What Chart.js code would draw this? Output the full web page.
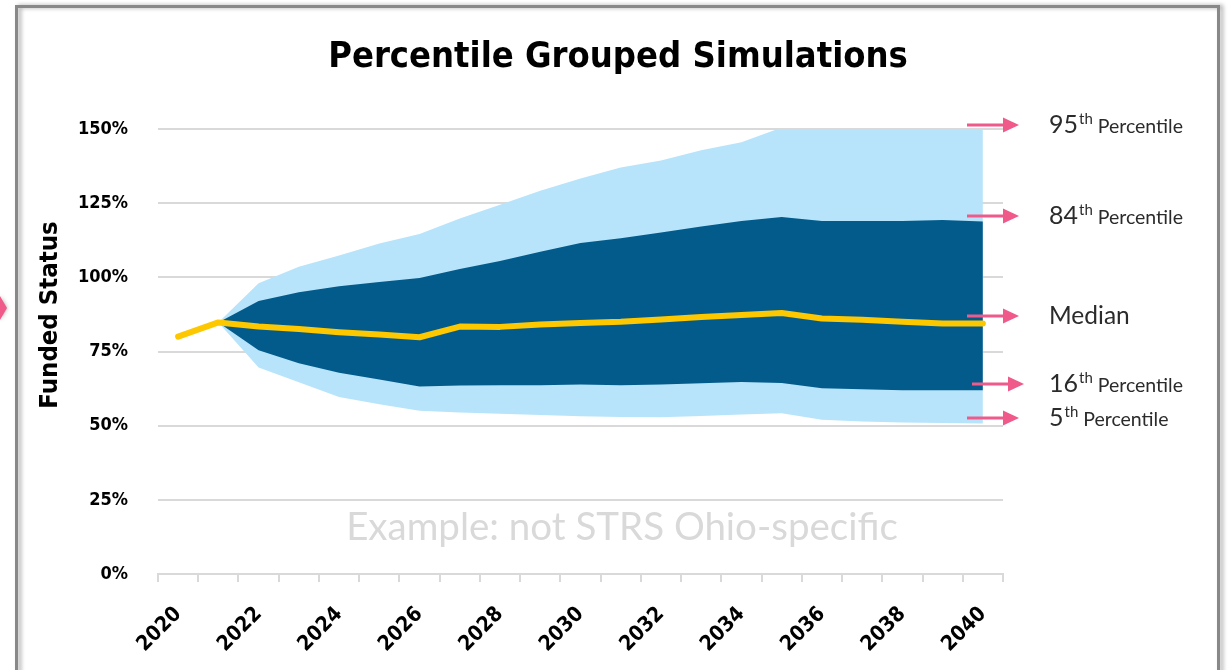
<!DOCTYPE html>
<html>
<head>
<meta charset="utf-8">
<script src="https://cdn.jsdelivr.net/npm/chart.js@4.4.1/dist/chart.umd.min.js"></script>
<style>
  html, body { margin: 0; padding: 0; background: #fff; overflow: hidden; }
  #wrap { position: relative; width: 1228px; height: 670px; }
</style>
</head>
<body>
<div id="wrap"><canvas id="fundedChart"></canvas></div>
<script>
// 데이터
const years = ['2020', '2021', '2022', '2023', '2024', '2025', '2026', '2027', '2028', '2029', '2030',
    '2031', '2032', '2033', '2034', '2035', '2036', '2037', '2038', '2039', '2040'];
const median = [80, 84.8, 83.4, 82.6, 81.5, 80.7, 79.8, 83.4, 83.3, 84.1, 84.6, 85, 85.8, 86.6, 87.3, 88, 86.1, 85.7, 85, 84.4, 84.4];
const p84 = [null, 84.8, 92, 95, 97, 98.4, 99.8, 102.8, 105.5, 108.6, 111.6, 113.2, 115.1, 117.1, 119, 120.3, 119, 119, 119, 119.3, 118.8];
const p16 = [null, 84.8, 75.4, 71, 67.8, 65.6, 63.2, 63.5, 63.6, 63.6, 63.9, 63.6, 63.9, 64.3, 64.7, 64.4, 62.6, 62.3, 61.9, 61.9, 61.9];
const p95 = [null, 84.8, 98, 103.6, 107.4, 111.4, 114.6, 119.8, 124.5, 129.2, 133.3, 137, 139.4, 142.8, 145.5, 150.5, 152, 153, 154, 155, 156];
const p5 = [null, 84.8, 69.6, 64.6, 59.7, 57.2, 55, 54.4, 54, 53.6, 53.2, 52.9, 52.8, 53.3, 53.8, 54.2, 52, 51.4, 51.1, 50.9, 50.7];
const yTicks = [0, 25, 50, 75, 100, 125, 150];

// 오른쪽 화살표 라벨 (y 값 위치)
const markerNums = ['95', '84', 'Median', '16', '5'];
const markerLevels = [151.3, 120.7, 86.8, 64, 52.5];

const colors = { light: '#b7e4fa', dark: '#035b8c', median: '#fdc800', grid: '#d9d9d9', arrow: '#ef5a8b', text: '#2b2b2b' };
const boldFont = "'DejaVu Sans Condensed', 'DejaVu Sans', sans-serif";
const thinFont = "Lato, 'Open Sans', sans-serif";

/**
 * 차트 영역 밖의 장식(제목, 축 제목, 화살표, 테두리)을 그립니다.
 */
const decorPlugin = {
    id: 'decor',
    beforeDraw(chart) {
        const ctx = chart.ctx;
        ctx.save();
        // 바깥 테두리
        ctx.shadowColor = 'rgba(0,0,0,0.35)';
        ctx.shadowBlur = 4;
        ctx.shadowOffsetX = 3;
        ctx.strokeStyle = '#888';
        ctx.lineWidth = 3;
        ctx.strokeRect(16.5, 6.5, 1202, 720);
        ctx.restore();

        // 왼쪽 가장자리 분홍 화살촉
        ctx.save();
        ctx.shadowColor = 'rgba(0,0,0,0.35)';
        ctx.shadowBlur = 4;
        ctx.fillStyle = colors.arrow;
        ctx.beginPath();
        ctx.moveTo(0, 296);
        ctx.lineTo(7, 308);
        ctx.lineTo(0, 320);
        ctx.closePath();
        ctx.fill();
        ctx.restore();
    },
    beforeDatasetsDraw(chart) {
        const { ctx, chartArea } = chart;
        ctx.save();
        ctx.beginPath();
        ctx.rect(chartArea.left, chartArea.top, chartArea.right - chartArea.left, chartArea.bottom - chartArea.top);
        ctx.clip();
    },
    afterDatasetsDraw(chart) {
        chart.ctx.restore();
    },
    afterDraw(chart) {
        const ctx = chart.ctx;
        const yScale = chart.scales.y;

        ctx.save();
        // 제목
        ctx.fillStyle = '#000';
        ctx.font = `bold 36px ${boldFont}`;
        ctx.textAlign = 'center';
        ctx.textBaseline = 'middle';
        ctx.fillText('Percentile Grouped Simulations', 618, 58);

        // y축 제목
        ctx.save();
        ctx.translate(50, 315);
        ctx.rotate(-Math.PI / 2);
        ctx.font = `bold 25.5px ${boldFont}`;
        ctx.fillText('Funded Status', 0, 0);
        ctx.restore();

        // 워터마크
        ctx.fillStyle = '#d9d9d9';
        ctx.font = `38.5px ${thinFont}`;
        ctx.textBaseline = 'alphabetic';
        ctx.fillText('Example: not STRS Ohio-specific', 622, 540);

        // 오른쪽 백분위 화살표와 라벨
        markerNums.forEach((num, i) => {
            const y = Math.round(yScale.getPixelForValue(markerLevels[i]));
            const x0 = i === 3 ? 972 : 967;
            const x1 = x0 + 52;
            ctx.strokeStyle = colors.arrow;
            ctx.fillStyle = colors.arrow;
            ctx.lineWidth = 3;
            ctx.beginPath();
            ctx.moveTo(x0, y);
            ctx.lineTo(x1 - 14, y);
            ctx.stroke();
            ctx.beginPath();
            ctx.moveTo(x1 - 16, y - 7.5);
            ctx.lineTo(x1, y);
            ctx.lineTo(x1 - 16, y + 7.5);
            ctx.closePath();
            ctx.fill();

            ctx.fillStyle = colors.text;
            ctx.textAlign = 'left';
            const base = y + 8;
            let tx = 1049;
            ctx.font = `${num === 'Median' ? 24.5 : 25}px ${thinFont}`;
            ctx.fillText(num, tx, base);
            if (num === 'Median') return;
            tx += ctx.measureText(num).width + 1;
            ctx.font = `15px ${thinFont}`;
            ctx.fillText('th', tx, base - 9);
            tx += ctx.measureText('th').width + 5;
            ctx.font = `19.5px ${thinFont}`;
            ctx.fillText('Percentile', tx, base);
        });
        ctx.restore();
    }
};

const chart = new Chart(document.getElementById('fundedChart'), {
    type: 'line',
    data: {
        labels: years,
        datasets: [
            { label: 'Median', data: median, borderColor: colors.median, borderWidth: 6, borderCapStyle: 'round', borderJoinStyle: 'round', pointRadius: 0, fill: false, tension: 0 },
            { label: '84th', data: p84, borderWidth: 0, pointRadius: 0, backgroundColor: colors.dark, fill: { target: 2 }, tension: 0 },
            { label: '16th', data: p16, borderWidth: 0, pointRadius: 0, fill: false, tension: 0 },
            { label: '95th', data: p95, borderWidth: 0, pointRadius: 0, backgroundColor: colors.light, fill: { target: 4 }, tension: 0 },
            { label: '5th', data: p5, borderWidth: 0, pointRadius: 0, fill: false, tension: 0 }
        ]
    },
    options: {
        responsive: true,
        maintainAspectRatio: false,
        animation: false,
        layout: { padding: { top: 129, left: 0, right: 225, bottom: 0 } },
        plugins: { legend: { display: false }, tooltip: { enabled: false } },
        scales: {
            x: {
                offset: true,
                grid: { offset: true, drawOnChartArea: false, drawTicks: true, tickLength: 8, color: colors.grid, lineWidth: 2 },
                border: { display: true, color: colors.grid, width: 2 },
                ticks: {
                    autoSkip: false, maxRotation: 45, minRotation: 45, padding: 20, color: '#000',
                    font: { family: boldFont, weight: 'bold', size: 21 },
                    callback: function (value, index) { return index % 2 === 0 ? this.getLabelForValue(value) : ''; }
                },
                afterFit: (scale) => { scale.height = 96; }
            },
            y: {
                min: 0, max: 150,
                afterBuildTicks: (scale) => { scale.ticks = yTicks.map(v => ({ value: v })); },
                grid: { color: colors.grid, lineWidth: 2, drawTicks: false },
                border: { display: false },
                ticks: { padding: 30, color: '#000', font: { family: boldFont, weight: 'bold', size: 18 }, callback: (v) => v + '%' },
                afterFit: (scale) => { scale.width = 158; }
            }
        }
    },
    plugins: [decorPlugin]
});
</script>
</body>
</html>
